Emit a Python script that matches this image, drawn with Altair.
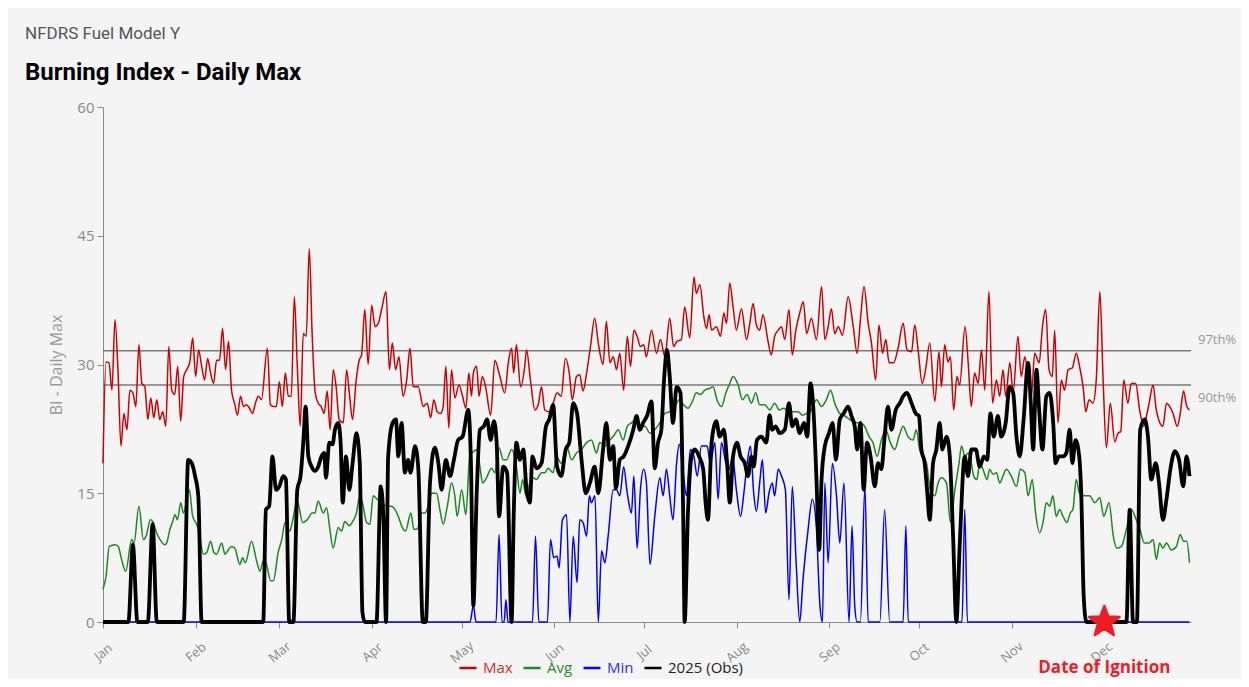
import altair as alt
import pandas as pd

# ---------------- data ----------------
months = ["Jan", "Feb", "Mar", "Apr", "May", "Jun", "Jul", "Aug", "Sep", "Oct", "Nov", "Dec"]
month_start_days = [0, 31, 59, 90, 120, 151, 181, 212, 243, 273, 304, 334]
y_ticks = [0, 15, 30, 45, 60]

series_names = ["Max", "Avg", "Min", "2025 (Obs)"]
series_colors = ["#cc0000", "#1a8a1a", "#0000ff", "#000000"]

# (day of year, BI)
max_points = [
    (0, 18.5), (1, 30.3), (2, 30.2), (3, 27.0), (4, 35.2), (5, 29.4), (6, 20.5), (7, 24.3), (8, 22.4), (9, 27.0),
    (10, 26.7), (11, 25.1), (12, 32.3), (13, 27.8), (14, 27.4), (15, 23.6), (16, 26.1), (17, 23.8), (18, 25.9),
    (19, 23.6), (20, 24.5), (21, 22.8), (22, 32.1), (23, 27.0), (24, 26.5), (25, 29.8), (26, 23.4), (27, 28.6),
    (28, 29.4), (29, 30.2), (30, 33.1), (31, 28.6), (32, 31.7), (33, 29.8), (34, 28.2), (35, 30.7), (36, 29.0),
    (37, 27.8), (38, 30.5), (39, 30.5), (40, 34.2), (41, 29.4), (42, 32.7), (43, 27.0), (44, 25.5), (45, 24.1),
    (46, 26.3), (47, 25.1), (48, 25.3), (49, 24.9), (50, 24.3), (51, 25.5), (52, 26.3), (53, 25.9), (55, 31.9),
    (56, 25.3), (57, 25.1), (58, 25.1), (59, 28.0), (60, 25.1), (61, 29.0), (62, 26.3), (63, 26.3), (64, 37.9),
    (65, 29.8), (66, 22.8), (67, 33.6), (68, 33.3), (69, 43.5), (70, 33.3), (71, 26.7), (72, 25.5), (73, 25.1),
    (74, 24.3), (75, 26.9), (76, 22.4), (77, 29.4), (78, 27.4), (79, 23.6), (80.4, 23.2), (81.5, 29.4),
    (82.4, 26.7), (83.5, 23.6), (84.6, 27.8), (85.7, 30.5), (86.5, 31.1), (87.6, 36.4), (88.7, 30.0),
    (89.9, 36.9), (91, 34.4), (92.1, 34.8), (93.2, 36.4), (94.7, 38.5), (95.8, 29.4), (96.8, 32.5),
    (97.9, 29.4), (99, 30.9), (100.4, 26.3), (101.6, 28.2), (102.7, 31.9), (103.8, 27.4), (105.5, 27.4),
    (107.1, 25.1), (108.5, 25.5), (109.6, 23.8), (110.7, 25.9), (111.8, 24.5), (113, 24.3), (113.8, 25.1),
    (114.7, 29.8), (115.7, 22.6), (116.6, 29.4), (117.7, 26.1), (119.1, 27.6), (120.3, 26.3), (121.4, 24.9),
    (122.4, 29.0), (123.3, 26.3), (123.9, 29.0), (125, 29.8), (125.8, 26.3), (126.9, 28.6), (128, 27.4),
    (129.7, 24.1), (131.1, 30.5), (132.8, 28.6), (134.4, 26.7), (135.6, 30.2), (136.7, 31.9), (137.4, 29.0),
    (138.3, 32.3), (139.7, 27.4), (141.1, 29.8), (141.7, 31.7), (143, 28.2), (144.5, 24.7), (145.6, 25.3),
    (146.7, 27.4), (147.8, 24.7), (149.3, 24.5), (150.6, 25.5), (151.9, 26.7), (153.3, 26.3), (154.7, 30.7),
    (156, 29.0), (157, 25.9), (158.4, 28.6), (159.5, 28.8), (160.6, 26.9), (161.8, 29.0), (163.1, 32.1),
    (164.5, 35.4), (165.7, 32.5), (167.3, 30.0), (168.4, 35.0), (169.6, 30.2), (170.7, 30.9), (171.8, 29.4),
    (172.9, 31.3), (174.2, 27.0), (175.4, 33.3), (176.5, 29.8), (177.6, 34.0), (178.7, 33.3), (179.8, 32.1),
    (180.9, 32.3), (181.8, 30.9), (183.5, 34.0), (185.2, 31.3), (186.5, 32.9), (188, 30.9), (189.6, 35.4),
    (190.9, 32.1), (192, 32.7), (193.5, 32.9), (194.6, 36.7), (196.3, 33.1), (197.7, 40.2), (198.5, 38.3),
    (199.7, 39.3), (201, 35.6), (201.9, 34.2), (202.8, 35.8), (203.6, 34.0), (205.2, 34.4), (206.6, 33.3),
    (207.7, 36.0), (208.6, 34.8), (209.7, 39.5), (210.8, 36.7), (211.9, 34.0), (213.6, 36.5), (215.3, 32.9),
    (216.4, 34.8), (217.5, 37.1), (218.6, 34.6), (219.7, 34.0), (220.8, 35.8), (222.5, 32.7), (223.6, 31.1),
    (224.7, 33.3), (225.9, 34.0), (227, 34.4), (228.1, 32.9), (229.5, 36.4), (230.6, 31.1), (231.8, 34.0),
    (233.1, 36.0), (234.3, 37.3), (235.4, 33.6), (237, 35.4), (238.7, 32.9), (240.4, 39.1), (241.5, 32.9),
    (242.6, 34.4), (243.7, 36.5), (244.8, 33.6), (246, 34.4), (247.4, 33.4), (249.3, 37.9), (251, 34.4),
    (252.3, 31.3), (253.4, 35.2), (254.6, 39.1), (256, 34.8), (257.1, 32.5), (258.5, 28.2), (259.6, 34.6),
    (260.8, 31.3), (261.9, 32.9), (263, 30.2), (264.5, 30.2), (266, 31.9), (267.7, 34.8), (269, 31.7),
    (270.5, 31.5), (271.6, 34.6), (272.7, 31.7), (274.1, 27.8), (275.2, 29.4), (276.6, 32.5), (278.3, 25.7),
    (279.7, 31.5), (280.5, 27.4), (281.6, 32.3), (282.7, 30.3), (283.5, 30.9), (284.6, 24.7), (285.7, 28.6),
    (286.6, 27.6), (288.4, 34.4), (289.4, 30.5), (290.5, 25.1), (291.6, 29.0), (292.8, 27.8), (293.9, 31.7),
    (295, 27.0), (296.4, 38.5), (297.6, 25.5), (298.9, 28.2), (300, 26.3), (301.1, 29.4), (302, 26.3),
    (303.4, 30.2), (304.5, 26.7), (306.1, 33.3), (307.2, 28.6), (308.4, 30.9), (309.5, 28.6), (310.6, 26.3),
    (311.7, 31.3), (313.2, 30.2), (314.3, 34.4), (315.4, 36.4), (316.5, 29.4), (317.6, 28.6), (318.4, 34.0),
    (319.5, 23.2), (320.6, 28.2), (321.7, 27.0), (322.9, 29.4), (324.3, 29.6), (325.6, 31.3), (326.7, 29.8),
    (327.9, 27.4), (328.8, 24.5), (329.9, 25.9), (331.2, 25.5), (332.3, 28.2), (333.5, 38.5), (334.6, 28.2),
    (335.7, 20.3), (337, 25.5), (338.5, 21.0), (339.6, 22.0), (340.5, 22.2), (341.5, 28.2), (342.9, 25.5),
    (344, 27.8), (345.5, 27.8), (346.8, 24.7), (348.2, 22.8), (349.1, 24.0), (350, 25.5), (351.3, 27.6),
    (352.4, 24.7), (354.6, 22.8), (355.8, 25.5), (356.9, 25.1), (358, 24.3), (359.4, 22.8), (360.4, 24.3),
    (361.5, 26.9), (362.6, 25.1), (363.5, 24.7),
]

avg_points = [
    (0, 3.8), (1, 5.3), (2.1, 8.8), (4, 9.0), (5.1, 8.8), (6.2, 7.3), (7.6, 5.9), (9.6, 9.6), (10.4, 9.2),
    (12, 13.5), (13.5, 9.6), (14.4, 10.0), (15.9, 11.9), (16.8, 11.6), (17.9, 10.4), (19.1, 9.6), (20.7, 9.0),
    (21.3, 9.2), (22.4, 10.8), (23.2, 11.6), (24.1, 12.5), (24.9, 11.9), (26, 13.9), (26.9, 12.7), (28.9, 15.4),
    (30, 12.3), (31, 11.6), (31.9, 10.8), (33.6, 7.9), (34.7, 8.1), (36, 9.4), (37.1, 8.1), (38, 7.9),
    (39.7, 9.2), (40.8, 7.9), (41.9, 8.4), (43, 8.8), (44.1, 8.6), (45.8, 6.7), (46.7, 7.5), (47.6, 6.9),
    (49.7, 9.4), (51.4, 7.1), (52.5, 5.9), (53.6, 7.1), (54.5, 6.9), (56.1, 4.8), (57, 4.8), (58.6, 8.1),
    (59.8, 9.6), (60.9, 11.6), (62.5, 10.6), (63.3, 11.6), (65, 14.1), (66.8, 11.6), (68.3, 11.9), (70, 12.7),
    (70.9, 12.7), (72, 14.1), (73.7, 12.7), (74.8, 13.3), (75.9, 10.8), (77, 8.6), (78.7, 11.0), (79.8, 10.6),
    (80.9, 11.7), (82.4, 11.2), (83.5, 11.7), (84.8, 12.7), (85.9, 14.7), (86.8, 13.9), (88.2, 11.6),
    (89.3, 11.4), (90.4, 14.7), (91.7, 14.3), (93.2, 13.9), (94.8, 13.5), (96.5, 13.5), (97.7, 13.1),
    (98.8, 12.3), (99.9, 11.2), (101.2, 10.6), (103, 12.7), (104, 10.8), (105.1, 10.8), (106.6, 12.7),
    (107.7, 12.7), (108.8, 13.5), (110, 15.0), (111.6, 15.0), (112.7, 13.1), (113.8, 11.4), (115.2, 13.5),
    (116.6, 16.2), (117.7, 14.7), (118.5, 12.3), (120, 15.4), (121.4, 12.5), (122.7, 19.3), (124.1, 19.9),
    (125.2, 20.1), (126.1, 18.1), (127, 16.2), (128.3, 16.8), (130, 17.9), (131.1, 17.4), (132.5, 20.3),
    (133.9, 18.9), (135, 18.9), (136.7, 20.1), (138.3, 18.1), (139.5, 15.0), (140.4, 16.6), (141.5, 14.7),
    (142.8, 16.2), (143.9, 16.8), (145, 16.6), (146.7, 17.4), (147.8, 17.4), (148.9, 17.9), (150.6, 17.4),
    (151.7, 19.3), (153.3, 18.5), (155.1, 20.5), (156.8, 18.9), (158.4, 19.7), (160.1, 20.1), (161.8, 20.9),
    (163.4, 21.2), (165.1, 19.7), (166.2, 20.9), (167.9, 20.5), (169.6, 21.2), (170.7, 21.6), (172.4, 22.4),
    (174, 21.2), (175.4, 22.8), (176.8, 23.2), (178.3, 23.6), (179.6, 22.6), (181.3, 22.8), (183, 22.0),
    (184.6, 22.4), (186.3, 23.2), (188, 24.3), (189.6, 24.5), (191.3, 25.1), (192.8, 25.9), (194.3, 25.3),
    (195.7, 24.9), (197.2, 25.7), (198.5, 26.7), (199.9, 26.5), (201.3, 27.0), (202.8, 27.2), (204.1, 27.4),
    (205.4, 25.9), (206.9, 25.1), (208.4, 26.7), (209.7, 27.8), (210.8, 28.6), (212.5, 27.6), (213.9, 25.9),
    (215.5, 26.5), (216.9, 25.5), (218.4, 26.7), (219.7, 25.3), (221.4, 25.3), (223.1, 24.7), (224.7, 25.5),
    (226.2, 24.7), (227.8, 24.9), (229.2, 24.5), (230.9, 24.5), (232.6, 24.5), (234, 24.1), (235.4, 24.3),
    (237, 24.7), (238.7, 25.9), (240.4, 25.1), (242, 25.9), (243.4, 27.0), (244.8, 25.5), (246.5, 24.3),
    (248.2, 24.0), (249.8, 23.6), (251.5, 23.2), (253.2, 23.2), (254.8, 22.8), (256.3, 21.6), (257.6, 20.9),
    (259, 19.3), (260.4, 21.2), (261.9, 22.4), (263.4, 20.9), (264.9, 20.1), (266.3, 21.6), (267.7, 22.8),
    (269.3, 21.6), (271, 21.2), (272.1, 22.4), (273.2, 20.1), (274.3, 19.3), (275.5, 18.5), (276.8, 15.4),
    (278.3, 14.7), (279.4, 16.2), (280.5, 16.8), (282.2, 16.2), (283.5, 11.6), (285, 15.4), (286.4, 18.5),
    (287.2, 20.5), (288.4, 19.3), (289.5, 19.7), (290.5, 18.5), (291.3, 17.0), (292.4, 16.6), (293.3, 18.5),
    (294.4, 17.8), (295.8, 16.6), (296.6, 17.8), (297.8, 17.2), (298.9, 17.4), (300, 16.2), (301.1, 17.0),
    (302.2, 17.8), (303.9, 17.0), (305.6, 15.8), (306.9, 17.8), (308.4, 17.4), (309.5, 14.7), (310.9, 16.6),
    (312, 12.7), (313.4, 10.4), (314.5, 11.6), (315.6, 13.9), (316.7, 13.5), (317.8, 14.7), (318.9, 12.3),
    (320, 13.1), (321.2, 12.3), (322.5, 11.6), (323.6, 12.7), (324.5, 13.1), (325.6, 16.6), (326.7, 15.0),
    (328.4, 14.7), (330.1, 14.7), (331.8, 13.9), (333.5, 14.5), (334.8, 12.3), (336.6, 13.9), (338, 10.0),
    (339.2, 8.6), (340.7, 8.8), (342.4, 10.8), (344, 13.1), (345.7, 11.9), (346.9, 10.8), (348.4, 9.2),
    (350, 9.2), (351.3, 9.6), (352.4, 7.3), (353.5, 9.2), (354.6, 8.6), (355.8, 9.2), (357.4, 8.4),
    (359.1, 8.8), (360.4, 10.2), (361.5, 9.4), (362.6, 9.4), (363.5, 6.9),
]

min_points = [
    (0, 0), (122.8, 0), (123.9, 1.9), (124.8, 0), (131.5, 0), (132.5, 10.2), (133.5, 0), (134.2, 0),
    (134.8, 2.6), (135.5, 0), (143.7, 0), (144.7, 10.0), (145.8, 0), (148.7, 0), (149.7, 9.6), (150.8, 7.5),
    (151.9, 7.7), (152.6, 6.3), (153.7, 11.9), (155.1, 12.5), (156.2, 0), (157.3, 10.0), (158.6, 4.6),
    (159.5, 11.9), (160.6, 11.6), (161.8, 10.0), (162.7, 14.7), (163.4, 13.9), (164.6, 14.7), (165.7, 0),
    (166.8, 8.3), (167.9, 6.9), (169, 10.0), (170.7, 15.4), (171.8, 15.4), (172.9, 14.7), (174.2, 18.1),
    (175.4, 15.0), (176.8, 12.7), (177.6, 17.0), (178.7, 8.6), (179.8, 15.4), (180.9, 17.8), (181.8, 16.2),
    (183, 6.7), (184.6, 12.3), (186.3, 16.8), (187.4, 14.7), (188.5, 17.8), (189.6, 14.7), (190.7, 11.9),
    (191.9, 18.5), (192.8, 20.7), (194.1, 17.4), (195.2, 14.7), (196.5, 20.1), (197.7, 19.3), (198.8, 17.0),
    (200.2, 20.5), (202.1, 20.5), (203.2, 18.5), (204.7, 20.9), (205.8, 14.3), (206.9, 20.9), (208.4, 18.5),
    (209.5, 17.8), (210.6, 19.3), (211.9, 15.4), (213.3, 12.3), (214.4, 15.0), (215.5, 18.5), (216.6, 20.5),
    (217.7, 15.0), (218.6, 12.9), (219.7, 16.2), (220.6, 18.9), (221.7, 12.7), (222.8, 15.0), (223.9, 16.2),
    (224.7, 14.7), (225.9, 17.8), (227, 17.0), (228.3, 15.4), (229.5, 2.6), (230.6, 15.8), (231.9, 6.9),
    (233.1, 0), (234.2, 5.0), (235.9, 10.8), (237.3, 14.3), (238.7, 10.8), (239.8, 2.2), (240.7, 0),
    (241.5, 16.2), (242.6, 6.9), (244, 18.5), (245.4, 14.7), (246.5, 9.2), (247.9, 16.2), (249.6, 0),
    (250.6, 11.2), (251.5, 1.9), (252.3, 0), (253.4, 0), (254.9, 15.8), (256, 0), (259.9, 0), (261.5, 13.1),
    (263.2, 0), (267.7, 0), (268.6, 11.2), (269.4, 0), (287.4, 0), (288.3, 13.1), (289.2, 0), (363.5, 0),
]

obs_points = [
    (0, 0), (8.5, 0), (10, 9.0), (11.5, 0), (15, 0), (16.6, 11.4), (18, 0), (27, 0), (28.5, 18.9),
    (29.7, 18.5), (30.8, 17.0), (31.9, 14.6), (33, 0), (53.6, 0), (54.5, 13.1), (55.6, 13.5), (56.7, 19.3),
    (57.9, 15.4), (59, 15.8), (60.3, 17.0), (61.2, 16.6), (62.3, 0), (63.7, 0), (65, 15.4), (66.1, 17.0),
    (67, 20.9), (67.8, 25.1), (68.7, 19.3), (69.8, 18.1), (70.9, 17.6), (72, 18.1), (73.1, 19.3), (74, 19.7),
    (74.6, 16.8), (75.7, 20.9), (76.8, 20.7), (77.6, 22.4), (78.7, 23.2), (79.5, 20.9), (80.2, 13.9),
    (81.3, 19.3), (82.4, 15.4), (83.5, 18.5), (84.8, 22.0), (85.9, 18.5), (86.8, 1.1), (87.6, 0), (91.5, 0),
    (92.9, 15.8), (93.8, 12.3), (94.7, 0), (95.4, 19.3), (96.9, 23.2), (98, 23.6), (98.8, 19.3), (99.9, 23.2),
    (101, 17.4), (102.1, 18.9), (102.9, 17.4), (104.4, 20.5), (105.5, 17.8), (107, 0), (108, 0), (109.4, 16.2),
    (111, 20.3), (112.2, 18.5), (113.3, 15.4), (114.7, 18.9), (116.1, 17.0), (117.4, 18.9), (118.8, 21.2),
    (120.3, 21.6), (122.2, 24.7), (123.1, 18.5), (123.9, 1.9), (125, 14.7), (126.1, 22.4), (127.4, 22.8),
    (128.5, 23.6), (129.7, 21.2), (130.8, 23.4), (131.7, 20.9), (132.5, 12.3), (133.9, 18.1), (135.2, 17.4),
    (136.7, 0), (137.4, 12.3), (138.3, 20.9), (139.5, 18.9), (140.6, 20.1), (141.7, 15.4), (142.8, 13.9),
    (143.7, 19.3), (145, 17.9), (146.7, 18.5), (148.2, 22.8), (149.3, 23.6), (150.6, 25.3), (151.9, 18.1),
    (153.3, 17.0), (154.8, 20.1), (156, 20.9), (157.3, 25.5), (158.6, 24.3), (160.1, 18.9), (161.5, 15.0),
    (162.9, 16.2), (164.5, 18.1), (165.7, 15.0), (167.3, 20.1), (168.4, 23.2), (169.6, 18.9), (170.7, 20.5),
    (171.6, 15.6), (172.9, 18.9), (174.2, 19.3), (175.7, 20.5), (177.4, 22.4), (178.5, 24.0), (179.6, 22.4),
    (180.7, 23.2), (182, 24.0), (183.5, 25.7), (184.6, 17.9), (185.7, 20.9), (186.8, 22.4), (187.7, 28.2),
    (188.7, 31.7), (189.6, 28.6), (190.7, 23.2), (191.9, 27.4), (193.2, 26.7), (194.1, 12.7), (194.6, 0),
    (195.7, 12.7), (196.9, 19.3), (198, 20.1), (199.4, 19.3), (200.8, 17.8), (201.7, 13.5), (202.4, 11.9),
    (203.6, 20.9), (205.2, 23.4), (206.3, 21.6), (207.7, 22.4), (208.8, 18.5), (209.7, 13.9), (210.8, 19.3),
    (212.1, 20.9), (213.3, 19.3), (214.7, 18.5), (215.8, 17.0), (216.9, 19.3), (217.7, 18.1), (218.8, 21.2),
    (220.3, 21.6), (221.9, 20.9), (223, 24.1), (223.9, 22.4), (225, 22.8), (226.4, 22.0), (228.1, 22.4),
    (229.5, 25.5), (230.6, 22.8), (231.8, 23.6), (233.1, 22.0), (234.5, 23.2), (235.6, 21.6), (236.7, 27.8),
    (237.8, 24.0), (238.7, 16.6), (239.6, 8.4), (240.4, 16.6), (241.5, 20.5), (242.9, 22.0), (244.1, 23.2),
    (245.2, 18.9), (246.5, 23.6), (247.8, 24.3), (249.3, 25.1), (250.4, 24.0), (251.5, 22.8), (252.3, 20.1),
    (253.4, 23.2), (254.5, 15.4), (255.6, 20.9), (256.8, 19.3), (258.2, 15.8), (259.3, 18.5), (260.4, 17.8),
    (261.5, 21.6), (262.6, 25.1), (263.8, 22.4), (265.2, 24.7), (266.6, 25.5), (267.7, 26.3), (269, 26.7),
    (270.5, 25.5), (271.9, 24.3), (273, 24.0), (273.8, 20.1), (274.9, 18.5), (275.7, 15.4), (276.6, 11.9),
    (277.7, 18.5), (278.8, 20.1), (279.9, 23.2), (280.8, 20.1), (282.2, 21.6), (283.3, 19.3), (284.4, 10.0),
    (285.5, 0), (286.6, 8.8), (288.3, 19.3), (289.4, 17.0), (290.5, 20.1), (292, 20.1), (293.3, 18.1),
    (294.7, 19.3), (295.8, 18.9), (296.9, 24.3), (298, 21.6), (299.4, 24.0), (300.5, 21.6), (302, 23.2),
    (303.3, 27.4), (304.5, 26.7), (305.6, 21.6), (306.7, 19.3), (308, 23.6), (309.5, 30.2), (310.4, 25.5),
    (311.2, 20.1), (312.3, 29.4), (313.2, 24.7), (314.3, 20.1), (315.6, 26.3), (316.7, 26.7), (317.9, 23.2),
    (318.7, 18.5), (319.8, 19.3), (321.2, 19.3), (322.3, 19.7), (323.4, 22.4), (324.3, 18.5), (325.4, 21.2),
    (326.6, 19.3), (327.3, 14.7), (328.1, 3.0), (329, 0), (342.4, 0), (343.5, 13.1), (344.6, 0), (345.9, 0),
    (347, 22.4), (348.5, 23.6), (349.6, 21.6), (350.7, 16.6), (352.2, 18.5), (353.3, 16.2), (354.6, 11.9),
    (355.8, 14.3), (357.1, 17.8), (358.6, 19.9), (360, 18.9), (361.4, 15.8), (362.5, 19.3), (363.5, 17.0),
]

pct_labels = ["97th%", "90th%"]
pct_values = [31.6, 27.6]

ignition_day = 335
ignition_label = "Date of Ignition"

# ---------------- build tables ----------------
rows = []
for name, pts in zip(series_names, [max_points, avg_points, min_points, obs_points]):
    for d, v in pts:
        rows.append({"series": name, "day": d, "value": v})
df = pd.DataFrame(rows)
pct_df = pd.DataFrame({"label": pct_labels, "value": pct_values})
ign_df = pd.DataFrame({"day": [ignition_day], "value": [0], "label": [ignition_label]})

FONT = "Open Sans"
GRAY = "#8a8a8a"

label_expr = "[" + ",".join("'%s'" % m for m in months) + "][indexof([" + \
    ",".join(str(d) for d in month_start_days) + "], datum.value)]"

x_enc = alt.X(
    "day:Q",
    scale=alt.Scale(domain=[0, 364], nice=False, zero=False),
    axis=alt.Axis(
        values=month_start_days, labelExpr=label_expr, title=None, grid=False,
        labelAngle=-40, labelAlign="center", labelBaseline="middle", labelPadding=24,
        tickSize=6, tickColor=GRAY, domainColor=GRAY, labelColor=GRAY,
        labelFont=FONT, labelFontSize=13,
    ),
)
y_enc = alt.Y(
    "value:Q",
    scale=alt.Scale(domain=[0, 60], nice=False),
    axis=alt.Axis(
        values=y_ticks, title="BI - Daily Max", grid=False, tickSize=6, tickColor=GRAY,
        domainColor=GRAY, labelColor=GRAY, labelFont=FONT, labelFontSize=15, labelPadding=3,
        titleColor="#9a9a9a", titleFont=FONT, titleFontSize=16, titleFontWeight="normal",
        titlePadding=12,
    ),
)

label_color_expr = (
    "datum.label == 'Max' ? '#d42a2a' : datum.label == 'Avg' ? '#2a8f2a' : "
    "datum.label == 'Min' ? '#2b2bff' : '#222222'"
)
color_enc = alt.Color(
    "series:N",
    scale=alt.Scale(domain=series_names, range=series_colors),
    legend=alt.Legend(
        title=None, orient="none", direction="horizontal", legendX=355, legendY=551,
        symbolType="stroke", symbolSize=289, symbolStrokeWidth=2.5, labelOffset=5,
        columnPadding=5, labelFont=FONT, labelFontSize=15,
        labelColor={"expr": label_color_expr}, labelLimit=200,
    ),
)

rules = alt.Chart(pct_df).mark_rule(color="#7a7a7a", strokeWidth=1.5).encode(y=y_enc)

def series_layer(name, width):
    return alt.Chart(df[df["series"] == name]).mark_line(
        strokeWidth=width, interpolate="monotone"
    ).encode(x=x_enc, y=y_enc, color=color_enc)

lines = [
    series_layer("Max", 1.5),
    series_layer("Avg", 1.5),
    series_layer("Min", 1.5),
    series_layer("2025 (Obs)", 3.8),
]

pct97 = alt.Chart(pct_df[pct_df["label"] == "97th%"]).mark_text(
    align="left", baseline="middle", dx=7, dy=-11, font=FONT, fontSize=13, color="#999999"
).encode(x=alt.datum(364), y=y_enc, text="label:N")
pct90 = alt.Chart(pct_df[pct_df["label"] == "90th%"]).mark_text(
    align="left", baseline="middle", dx=7, dy=13, font=FONT, fontSize=13, color="#999999"
).encode(x=alt.datum(364), y=y_enc, text="label:N")

star_path = ("M0,-1 L0.247,-0.34 L0.951,-0.309 L0.399,0.13 L0.588,0.809 L0,0.42 "
             "L-0.588,0.809 L-0.399,0.13 L-0.951,-0.309 L-0.247,-0.34 Z")
star = alt.Chart(ign_df).mark_point(
    shape=star_path, size=1024, filled=True, fill="#ee1c25", stroke="#ee1c25",
    strokeWidth=2.5, strokeJoin="round", opacity=1,
).encode(x=x_enc, y=y_enc)
ign_text = alt.Chart(ign_df).mark_text(
    dy=46, font=FONT, fontSize=17, fontWeight="bold", color="#ee1c25", baseline="middle"
).encode(x=x_enc, y=y_enc, text="label:N")

chart = alt.layer(rules, *lines, pct97, pct90, star, ign_text).properties(
    width=1088,
    height=515,
    autosize=alt.AutoSizeParams(type="none"),
    padding={"left": 95, "top": 99, "right": 50, "bottom": 57},
    background="#f4f4f4",
    title=alt.TitleParams(
        text="NFDRS Fuel Model Y",
        subtitle="Burning Index - Daily Max",
        anchor="start", frame="group", dx=-78, offset=14,
        font="Roboto", fontSize=17, fontWeight="normal", color="#555555",
        subtitleFont="Roboto", subtitleFontSize=24, subtitleFontWeight="bold",
        subtitleColor="#000000", subtitlePadding=18,
    ),
).configure_view(stroke=None)

chart.save("out.html", embed_options={"renderer": "svg", "actions": False})
